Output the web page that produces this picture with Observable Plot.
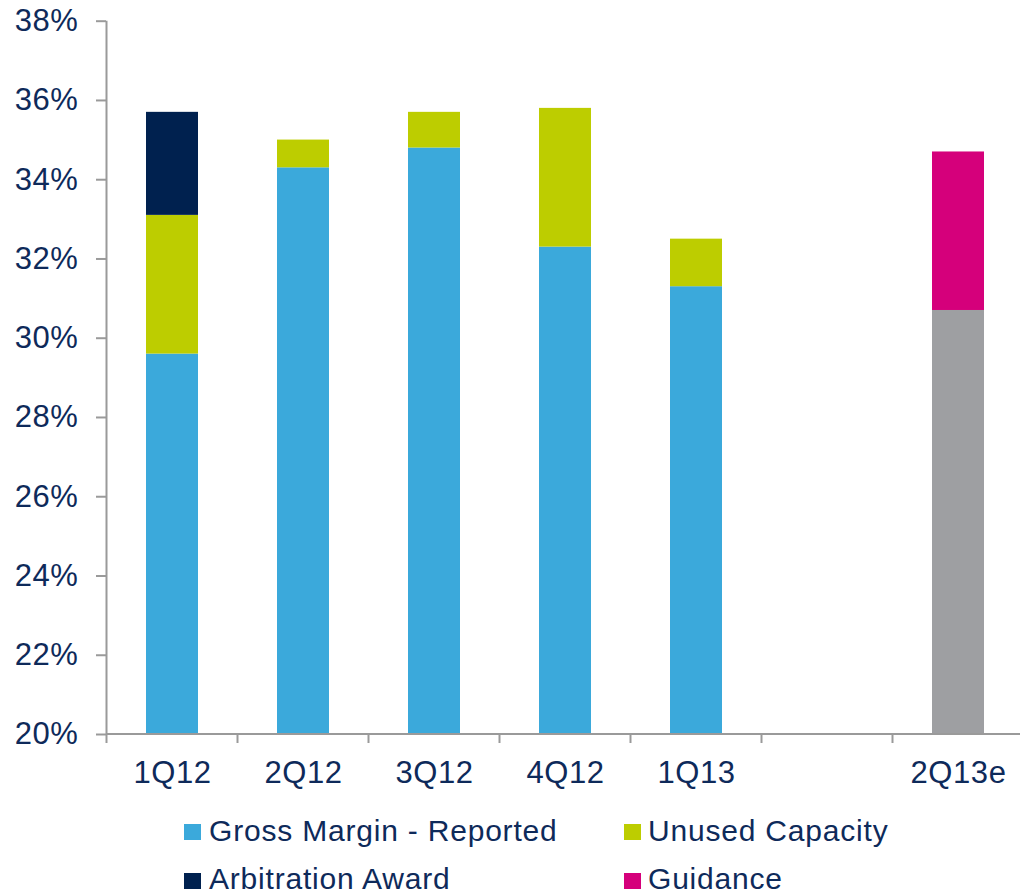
<!DOCTYPE html>
<html>
<head>
<meta charset="utf-8">
<script src="https://cdn.jsdelivr.net/npm/d3@7"></script>
<script src="https://cdn.jsdelivr.net/npm/@observablehq/plot@0.6"></script>
<style>
  html, body { margin: 0; padding: 0; background: #fff; }
  #wrap { position: relative; width: 1020px; height: 893px; overflow: hidden; font-family: "Liberation Sans", Arial, sans-serif; }
  .lg { position: absolute; font-size: 30px; line-height: 30px; letter-spacing: 0.8px; color: #0E2A5A; white-space: nowrap; }
  .sw { position: absolute; width: 17px; height: 16px; }
</style>
</head>
<body>
<div id="wrap"><div id="chart"></div></div>
<script>
// ---- data ----
const quarters = ["1Q12", "2Q12", "3Q12", "4Q12", "1Q13", " ", "2Q13e"];
const grossReported   = [29.6, 34.3, 34.8, 32.3, 31.3, null, null];
const unusedCapacity  = [3.5, 0.7, 0.9, 3.5, 1.2, null, null];
const arbitrationAward = [2.6, null, null, null, null, null, null];
const estimateBase    = [null, null, null, null, null, null, 30.7];
const guidance        = [null, null, null, null, null, null, 4.0];
const yTicks = [20, 22, 24, 26, 28, 30, 32, 34, 36, 38];
const legendItems = ["Gross Margin - Reported", "Unused Capacity", "Arbitration Award", "Guidance"];

const colors = {
  "Gross Margin - Reported": "#3BA9DB",
  "Estimate": "#9E9FA2",
  "Unused Capacity": "#BDCD00",
  "Arbitration Award": "#00214F",
  "Guidance": "#D5007B"
};
const textColor = "#0E2A5A";
const axisColor = "#9A9A9A";
const yMin = 20, yMax = 38;

// build stacked segments (levels for base, increments on top)
const rows = [];
quarters.forEach((q, i) => {
  const base = grossReported[i] != null ? ["Gross Margin - Reported", grossReported[i]]
             : estimateBase[i] != null ? ["Estimate", estimateBase[i]] : null;
  if (!base) return;
  rows.push({quarter: q, series: base[0], y1: yMin, y2: base[1]});
  let top = base[1];
  [["Unused Capacity", unusedCapacity], ["Arbitration Award", arbitrationAward], ["Guidance", guidance]].forEach(([name, arr]) => {
    if (arr[i] != null) {
      rows.push({quarter: q, series: name, y1: top, y2: top + arr[i]});
      top += arr[i];
    }
  });
});

// band-edge ticks and axis lines drawn from the library scales
function bandAxes(index, scales, values, dims) {
  const x = scales.x, y = scales.y;
  const bw = x.bandwidth ? x.bandwidth() : 0;
  const step = x.step ? x.step() : bw;
  const g = d3.create("svg:g").attr("stroke", axisColor).attr("stroke-width", 2).attr("fill", "none");
  const y0 = y(yMin), y1 = y(yMax);
  const left = x(quarters[0]) - (step - bw) / 2;
  g.append("line").attr("x1", left).attr("x2", left).attr("y1", y0 + 1).attr("y2", y1);
  g.append("line").attr("x1", left).attr("x2", dims.width + 10).attr("y1", y0).attr("y2", y0);
  quarters.forEach(q => {
    const xe = x(q) - (step - bw) / 2;
    g.append("line").attr("x1", xe).attr("x2", xe).attr("y1", y0).attr("y2", y0 + 9);
  });
  return g.node();
}

const chart = Plot.plot({
  width: 1020,
  height: 800,
  marginTop: 21,
  marginBottom: 66,
  marginLeft: 106,
  marginRight: 0,
  style: {fontFamily: "'Liberation Sans', Arial, sans-serif", color: textColor, background: "transparent", letterSpacing: "0.6px"},
  x: {domain: quarters, range: [106, 1025], paddingInner: 0.6, paddingOuter: 0.3, align: 0.5},
  y: {domain: [yMin, yMax], range: [734, 20.7]},
  color: {domain: Object.keys(colors), range: Object.values(colors)},
  marks: [
    Plot.barY(rows, {x: "quarter", y1: "y1", y2: "y2", fill: "series"}),
    bandAxes,
    Plot.axisY({ticks: yTicks, tickSize: 10, tickPadding: 18, strokeWidth: 2, stroke: axisColor, fill: textColor,
                tickFormat: d => d + "%", fontSize: 31, label: null}),
    Plot.axisX({tickSize: 0, tickPadding: 26, fill: textColor, fontSize: 31, label: null})
  ]
});
document.getElementById("chart").appendChild(chart);

// legend below the plot
const wrap = document.getElementById("wrap");
const pos = [
  {sx: 184, sy: 824, tx: 209, ty: 816},
  {sx: 624, sy: 824, tx: 648, ty: 816},
  {sx: 184, sy: 873, tx: 209, ty: 864},
  {sx: 624, sy: 873, tx: 648, ty: 864}
];
legendItems.forEach((name, i) => {
  const sw = document.createElement("div");
  sw.className = "sw";
  sw.style.left = pos[i].sx + "px"; sw.style.top = pos[i].sy + "px";
  sw.style.background = colors[name];
  wrap.appendChild(sw);
  const t = document.createElement("div");
  t.className = "lg";
  t.style.left = pos[i].tx + "px"; t.style.top = pos[i].ty + "px";
  t.textContent = name;
  wrap.appendChild(t);
});
</script>
</body>
</html>
